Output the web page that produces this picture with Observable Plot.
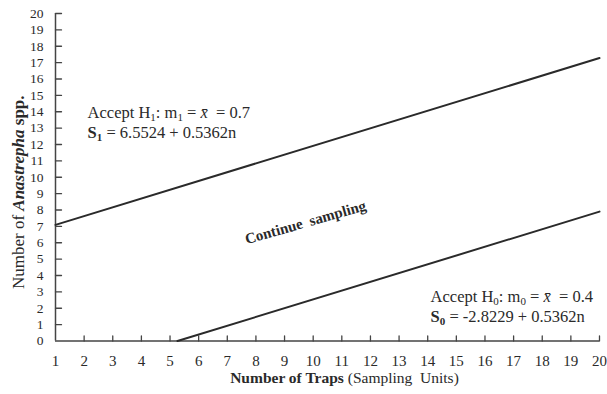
<!DOCTYPE html>
<html>
<head>
<meta charset="utf-8">
<script src="https://cdn.jsdelivr.net/npm/d3@7"></script>
<script src="https://cdn.jsdelivr.net/npm/@observablehq/plot@0.6"></script>
<style>
  html, body { margin: 0; padding: 0; background: #fff; }
</style>
</head>
<body>
<div id="chart"></div>
<script>
// ---- data ----
const xTicks = [1, 2, 3, 4, 5, 6, 7, 8, 9, 10, 11, 12, 13, 14, 15, 16, 17, 18, 19, 20];
const yTicks = [0, 1, 2, 3, 4, 5, 6, 7, 8, 9, 10, 11, 12, 13, 14, 15, 16, 17, 18, 19, 20];
const upperN = [1, 20];
const upperS1 = [7.09, 17.28];
const lowerN = [5.26, 20];
const lowerS0 = [0, 7.90];

// annotation texts
const h1Line1 = [{t: "Accept H"}, {t: "1", sub: true}, {t: ": m"}, {t: "1", sub: true}, {t: " = "}, {t: "x̄", i: true}, {t: "  = 0.7"}];
const h1Line2 = [{t: "S", b: true}, {t: "1", sub: true, b: true}, {t: " = 6.5524 + 0.5362n"}];
const h0Line1 = [{t: "Accept H"}, {t: "0", sub: true}, {t: ": m"}, {t: "0", sub: true}, {t: " = "}, {t: "x̄", i: true}, {t: "  = 0.4"}];
const h0Line2 = [{t: "S", b: true}, {t: "0", sub: true, b: true}, {t: " = -2.8229 + 0.5362n"}];
const middleLabel = "Continue  sampling";
const yLabelParts = [{t: "Number of "}, {t: "Anastrepha", b: true, i: true}, {t: " spp.", b: true}];
const xLabelParts = [{t: "Number of Traps", b: true}, {t: " (Sampling  Units)"}];

const upper = upperN.map((n, i) => ({n, s: upperS1[i]}));
const lower = lowerN.map((n, i) => ({n, s: lowerS0[i]}));
const plain = parts => parts.map(p => p.t).join("");

const tickShape = {draw(context, length) { context.moveTo(0, 0); context.lineTo(0, -length); }};
const ink = "#2a2a2a";

const chart = Plot.plot({
  width: 607,
  height: 394,
  marginLeft: 55,
  marginRight: 8,
  marginTop: 13,
  marginBottom: 53.5,
  x: {domain: [1, 20]},
  y: {domain: [0, 20]},
  style: {fontFamily: "'Liberation Serif', 'Times New Roman', serif", color: ink, background: "#fff", overflow: "visible"},
  marks: [
    Plot.axisX(xTicks, {tickSize: 0, tickPadding: 14, fontSize: 15, label: null}),
    Plot.axisY(yTicks, {tickSize: 0, tickPadding: 12, fontSize: 13.5, label: null}),
    Plot.vector(xTicks.slice(1), {x: d => d, frameAnchor: "bottom", length: 5, anchor: "start", shape: tickShape, stroke: "#444", strokeWidth: 1.3}),
    Plot.vector(yTicks.slice(1), {y: d => d, frameAnchor: "left", rotate: 90, length: 6, anchor: "start", shape: tickShape, stroke: "#444", strokeWidth: 1.3}),
    Plot.ruleX([1], {stroke: "#444", strokeWidth: 1.5}),
    Plot.ruleY([0], {stroke: "#444", strokeWidth: 1.5}),
    Plot.line(upper, {x: "n", y: "s", stroke: ink, strokeWidth: 2}),
    Plot.line(lower, {x: "n", y: "s", stroke: ink, strokeWidth: 2}),
    Plot.text([plain(h1Line1)], {x: 2.12, y: 13.92, text: d => d, textAnchor: "start", lineAnchor: "middle", fontSize: 16.5, fill: ink}),
    Plot.text([plain(h1Line2)], {x: 2.12, y: 12.72, text: d => d, textAnchor: "start", lineAnchor: "middle", fontSize: 16.5, fill: ink}),
    Plot.text([plain(h0Line1)], {x: 14.1, y: 2.68, text: d => d, textAnchor: "start", lineAnchor: "middle", fontSize: 16.5, fill: ink}),
    Plot.text([plain(h0Line2)], {x: 14.1, y: 1.5, text: d => d, textAnchor: "start", lineAnchor: "middle", fontSize: 16.5, fill: ink}),
    Plot.text([middleLabel], {x: 9.73, y: 7.24, text: d => d, rotate: -16, fontSize: 15, fontWeight: "bold", fill: ink}),
    Plot.text([plain(yLabelParts)], {frameAnchor: "left", dx: -37, dy: 15, rotate: -90, textAnchor: "middle", text: d => d, fontSize: 17, fill: ink}),
    Plot.text([plain(xLabelParts)], {frameAnchor: "bottom", dx: 17, dy: 41.5, textAnchor: "middle", text: d => d, fontSize: 15.5, fill: ink})
  ]
});

function applyRich(parts) {
  const target = plain(parts);
  d3.select(chart).selectAll("text").filter(function() { return this.textContent === target; }).each(function() {
    const t = d3.select(this);
    t.text(null);
    let shifted = false;
    for (const p of parts) {
      const ts = t.append("tspan").text(p.t);
      if (p.sub) {
        ts.attr("dy", shifted ? 0 : 3).attr("font-size", 11);
        shifted = true;
      } else if (shifted) {
        ts.attr("dy", -3);
        shifted = false;
      }
      if (p.b) ts.attr("font-weight", "bold");
      if (p.i) ts.attr("font-style", "italic");
    }
  });
}
[h1Line1, h1Line2, h0Line1, h0Line2, yLabelParts, xLabelParts].forEach(applyRich);

document.getElementById("chart").append(chart);
</script>
</body>
</html>
